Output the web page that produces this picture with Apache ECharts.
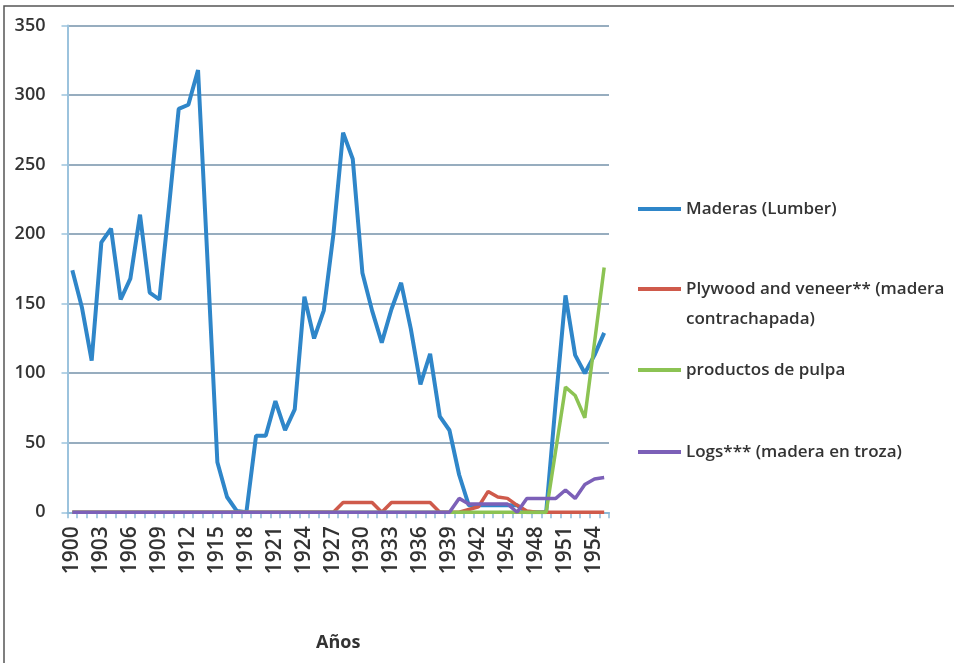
<!DOCTYPE html>
<html lang="es">
<head>
<meta charset="UTF-8">
<title>Años</title>
<script src="https://cdn.jsdelivr.net/npm/echarts@6/dist/echarts.min.js"></script>
<style>
  html, body { margin: 0; padding: 0; background: #fff; }
  #box { width: 954px; height: 663px; }
</style>
</head>
<body>
<div id="box"></div>
<script>
// años 1900-1955
var years = ["1900","1901","1902","1903","1904","1905","1906","1907","1908","1909",
  "1910","1911","1912","1913","1914","1915","1916","1917","1918","1919",
  "1920","1921","1922","1923","1924","1925","1926","1927","1928","1929",
  "1930","1931","1932","1933","1934","1935","1936","1937","1938","1939",
  "1940","1941","1942","1943","1944","1945","1946","1947","1948","1949",
  "1950","1951","1952","1953","1954","1955"];

// Maderas (Lumber)
var maderas = [174,147,109,194,204,153,168,214,158,153,
  220,290,293,318,178,36,11,1,0,55,
  55,80,59,74,155,125,145,200,273,254,
  172,145,122,146,165,132,92,114,69,59,
  27,5,5,5,5,5,5,0,0,0,
  80,156,113,100,113,129];

// Plywood and veneer
var plywood = [0,0,0,0,0,0,0,0,0,0,
  0,0,0,0,0,0,0,0,0,0,
  0,0,0,0,0,0,0,0,7,7,
  7,7,0,7,7,7,7,7,0,0,
  0,2,4,15,11,10,5,1,0,0,
  0,0,0,0,0,0];

// productos de pulpa
var pulpa = [0,0,0,0,0,0,0,0,0,0,
  0,0,0,0,0,0,0,0,0,0,
  0,0,0,0,0,0,0,0,0,0,
  0,0,0,0,0,0,0,0,0,0,
  0,0,0,0,0,0,0,0,0,0,
  45,90,84,68,122,176];

// Logs (madera en troza)
var logs = [0,0,0,0,0,0,0,0,0,0,
  0,0,0,0,0,0,0,0,0,0,
  0,0,0,0,0,0,0,0,0,0,
  0,0,0,0,0,0,0,0,0,0,
  10,6,6,6,6,6,0,10,10,10,
  10,16,10,20,24,25];

var names = ["Maderas (Lumber)", "Plywood and veneer** (madera", "productos de pulpa", "Logs*** (madera en troza)"];
var colores = ["#2f86c9", "#cf5a4b", "#8cc353", "#7c60b8"];
var yTicks = [0, 50, 100, 150, 200, 250, 300, 350];

var fuente = "Open Sans";
var myChart = echarts.init(document.getElementById("box"));

// una leyenda por serie, para poder colocarlas como en el original
function leyenda(nombre, centro) {
  return {
    data: [nombre],
    orient: "vertical",
    left: 638,
    top: centro - 10,
    padding: 0,
    icon: "rect",
    itemWidth: 43,
    itemHeight: 4,
    selectedMode: false,
    textStyle: { fontFamily: fuente, fontSize: 17, fontWeight: 600, color: "#333", lineHeight: 20 }
  };
}

function serie(nombre, datos, color, ancho) {
  return {
    name: nombre,
    type: "line",
    data: datos,
    symbol: "none",
    color: color,
    lineStyle: { width: ancho, color: color },
    animation: false
  };
}

var option = {
  backgroundColor: "#fff",
  animation: false,
  grid: { left: 67.5, right: 345, top: 25.5, bottom: 150.7 },
  legend: [
    leyenda(names[0], 209),
    leyenda(names[1], 289),
    leyenda(names[2], 370),
    leyenda(names[3], 452)
  ],
  xAxis: {
    type: "category",
    data: years,
    boundaryGap: true,
    name: "Años",
    nameLocation: "middle",
    nameGap: 122,
    nameTextStyle: { fontFamily: fuente, fontSize: 18, fontWeight: "bold", color: "#333" },
    axisLine: { lineStyle: { color: "#8dbad8", width: 2 } },
    axisTick: { show: true, interval: 0, length: 6, lineStyle: { color: "#8dbad8", width: 1.5 } },
    axisLabel: {
      interval: 2,
      rotate: 90,
      margin: 14,
      fontFamily: fuente,
      fontSize: 21,
      fontWeight: 600,
      color: "#333"
    },
    splitLine: { show: false }
  },
  yAxis: {
    type: "value",
    min: yTicks[0],
    max: yTicks[yTicks.length - 1],
    interval: 50,
    axisLine: { show: true, lineStyle: { color: "#9cc3dd", width: 2 } },
    axisTick: { show: true, length: 6, lineStyle: { color: "#9cc3dd", width: 1.5 } },
    axisLabel: { margin: 22, fontFamily: fuente, fontSize: 18, fontWeight: 600, color: "#333" },
    splitLine: { lineStyle: { color: "#97adbf", width: 2 } }
  },
  series: [
    serie(names[0], maderas, colores[0], 4),
    serie(names[1], plywood, colores[1], 3.5),
    serie(names[2], pulpa, colores[2], 3.5),
    serie(names[3], logs, colores[3], 3.5)
  ],
  graphic: [
    {
      type: "text",
      left: 686,
      top: 311,
      style: { text: "contrachapada)", font: "600 17px 'Open Sans'", fill: "#333" }
    },
    {
      type: "polyline",
      shape: { points: [[4, 663], [4, 6], [954, 6]] },
      style: { stroke: "#555", lineWidth: 1.5, fill: null }
    }
  ]
};

myChart.setOption(option);
</script>
</body>
</html>
